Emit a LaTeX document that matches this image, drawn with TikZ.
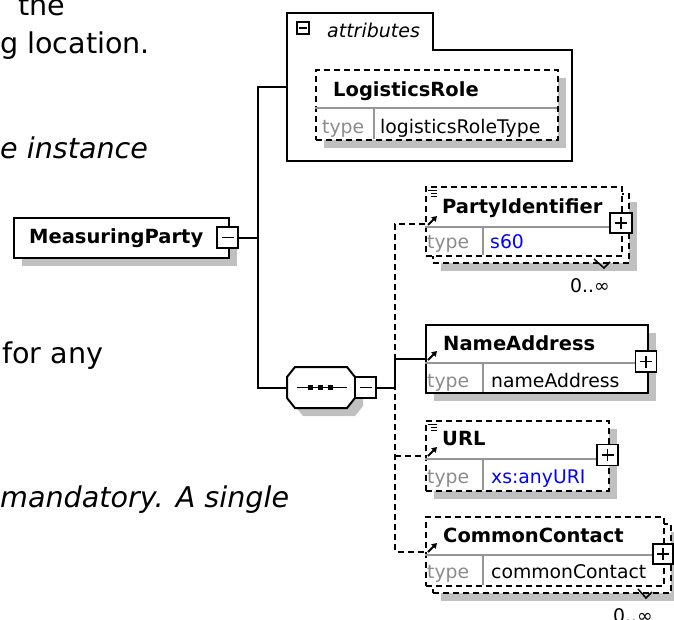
\documentclass[tikz,border=0pt]{standalone}
\usepackage{fontspec}
\setmainfont{DejaVu Sans}[ItalicFont={DejaVu Sans Oblique},BoldFont={DejaVu Sans Bold},BoldItalicFont={DejaVu Sans Bold Oblique}]
\usetikzlibrary{shadows,arrows.meta,calc}
\definecolor{shadowgray}{RGB}{192,192,192}
\definecolor{sepgray}{RGB}{150,150,150}
\definecolor{typegray}{RGB}{140,140,140}
\definecolor{valblue}{RGB}{0,0,255}
\begin{document}
\begin{tikzpicture}[x=1pt,y=-1pt,
  bigtxt/.style={font=\fontsize{28.6}{34}\selectfont, anchor=base west, inner sep=0pt},
  bigit/.style={bigtxt, font=\fontsize{28.6}{34}\selectfont\itshape},
  elname/.style={font=\fontsize{19.5}{23}\selectfont\bfseries, anchor=base west, inner sep=0pt},
  small/.style={font=\fontsize{18.8}{22}\selectfont, anchor=base west, inner sep=0pt},
  typelbl/.style={small, text=typegray},
  bluelbl/.style={small, text=valblue},
  shad/.style={drop shadow={shadow xshift=8pt, shadow yshift=-8pt, fill=shadowgray, opacity=1}},
  solidbox/.style={draw, line width=2pt, fill=white, inner sep=0pt, anchor=north west},
  dashbox/.style={solidbox, dash pattern=on 6pt off 4pt},
  conn/.style={line width=2pt},
  dconn/.style={line width=2pt, dash pattern=on 6pt off 4pt},
  sepline/.style={draw=sepgray, line width=1.5pt},
  pmbox/.style={draw, line width=1.5pt, fill=white, minimum width=21pt, minimum height=21pt, inner sep=0pt},
  pmline/.style={line width=1.5pt},
  refarrow/.style={line width=2pt, -{Triangle[length=5pt,width=6pt]}},
  iconline/.style={line width=1pt},
]
\useasboundingbox (0,0) rectangle (674,619);

% left text fragments
\node[bigtxt] (t1) at (18,15) {the};
\node[bigtxt] (t2) at (0,53) {g location.};
\node[bigit] (t3) at (0,158) {e instance};
\node[bigtxt] (t4) at (2,363) {for any};
\node[bigit] (t5) at (0,507) {mandatory. A single};

% attributes group
\node[inner sep=0pt, minimum width=285pt, minimum height=148pt, anchor=north west] (attr) at (287,13) {};
\draw[conn] (287,161) -- (287,13) -- (433,13) -- (433,50) -- (572,50) -- (572,161) -- cycle;
\node[pmbox, minimum width=12pt, minimum height=12pt, line width=1.2pt] (attrm) at (303,28) {};
\draw[line width=1.2pt] ([xshift=-4pt]attrm.center) -- ([xshift=4pt]attrm.center);
\node[small, font=\fontsize{19}{22}\selectfont\itshape] (attrt) at (327,37) {attributes};

\node[dashbox, shad, minimum width=242pt, minimum height=70pt] (lr) at (315,69) {};
\draw[sepline] (315,108) -- (557,108);
\draw[sepline] (374,108) -- (374,139);
\node[elname] (lrt) at (333,96.5) {LogisticsRole};
\node[typelbl] (lrty) at (322,133) {type};
\node[small] (lrv) at (380,133) {logisticsRoleType};

% MeasuringParty
\node[solidbox, shad, minimum width=215pt, minimum height=40pt] (mp) at (13,217) {};
\node[elname] (mpt) at (29,243.5) {MeasuringParty};
\node[pmbox] (mpm) at (227.5,237.5) {};
\draw[pmline] ([xshift=-6pt]mpm.center) -- ([xshift=6pt]mpm.center);

% sequence
\node[inner sep=0pt, minimum width=68pt, minimum height=41pt] (seq) at (321,387.5) {};
\begin{scope}[shift={(8,8)}]
\fill[shadowgray] (287,377) -- (295,367) -- (347,367) -- (355,377) -- (355,398) -- (347,408) -- (295,408) -- (287,398) -- cycle;
\end{scope}
\draw[line width=2pt, fill=white] (287,377) -- (295,367) -- (347,367) -- (355,377) -- (355,398) -- (347,408) -- (295,408) -- (287,398) -- cycle;
\draw[line width=1.5pt] (297,387.5) -- (347,387.5);
\fill (308,385) rectangle (313,390);
\fill (318,385) rectangle (323,390);
\fill (328,385) rectangle (333,390);
\node[pmbox] (seqm) at (365.5,387.5) {};
\draw[pmline] ([xshift=-6pt]seqm.center) -- ([xshift=6pt]seqm.center);

% PartyIdentifier (stacked)
\node[dashbox, shad, minimum width=196pt, minimum height=69pt] (piback) at (432,193) {};
\node[dashbox, minimum width=196pt, minimum height=69pt] (pi) at (425,186) {};
\draw[sepline] (425,227) -- (621,227);
\draw[sepline] (483,227) -- (483,255);
\node[pmbox, minimum width=22pt, minimum height=20pt] (pip) at (621,223) {};
\draw[pmline] ([xshift=-6pt]pip.center) -- ([xshift=6pt]pip.center);
\draw[pmline] ([yshift=-6pt]pip.center) -- ([yshift=6pt]pip.center);
\node[elname] (pit) at (442,213) {PartyIdentifier};
\node[typelbl] (pity) at (427,248) {type};
\node[bluelbl] (piv) at (490,248) {s60};
\node[small] (pim) at (570,292) {0..∞};
\draw[line width=1.5pt] (594,259) -- (604,268) -- (610,262);
\draw[iconline] (428,190) -- (437,190) (431,193) -- (437,193) (431,196) -- (437,196);
\draw[refarrow] (428,225) -- (437,216);

% NameAddress
\node[solidbox, shad, minimum width=222pt, minimum height=68pt] (na) at (425,324) {};
\draw[sepline] (425,363) -- (647,363);
\draw[sepline] (483,363) -- (483,392);
\node[pmbox] (nap) at (646,361.5) {};
\draw[pmline] ([xshift=-6pt]nap.center) -- ([xshift=6pt]nap.center);
\draw[pmline] ([yshift=-6pt]nap.center) -- ([yshift=6pt]nap.center);
\node[elname] (nat) at (443,350) {NameAddress};
\node[typelbl] (naty) at (427,387) {type};
\node[small] (nav) at (491,387) {nameAddress};
\draw[refarrow] (428,360) -- (437,351);

% URL
\node[dashbox, shad, minimum width=183pt, minimum height=70pt] (url) at (425,420) {};
\draw[sepline] (425,459) -- (608,459);
\draw[sepline] (483,459) -- (483,490);
\node[pmbox] (urlp) at (607.5,455) {};
\draw[pmline] ([xshift=-6pt]urlp.center) -- ([xshift=6pt]urlp.center);
\draw[pmline] ([yshift=-6pt]urlp.center) -- ([yshift=6pt]urlp.center);
\node[elname] (urlt) at (442,445) {URL};
\node[typelbl] (urlty) at (427,483) {type};
\node[bluelbl] (urlv) at (491,483) {xs:anyURI};
\draw[iconline] (428,424) -- (437,424) (431,427) -- (437,427) (431,430) -- (437,430);
\draw[refarrow] (428,456) -- (437,447);

% CommonContact (stacked)
\node[dashbox, shad, minimum width=238pt, minimum height=69pt] (ccback) at (432,523) {};
\node[dashbox, minimum width=238pt, minimum height=69pt] (cc) at (425,516) {};
\draw[sepline] (425,555) -- (663,555);
\draw[sepline] (483,555) -- (483,585);
\node[pmbox, minimum width=20pt, minimum height=20pt] (ccp) at (663,554) {};
\draw[pmline] ([xshift=-6pt]ccp.center) -- ([xshift=6pt]ccp.center);
\draw[pmline] ([yshift=-6pt]ccp.center) -- ([yshift=6pt]ccp.center);
\node[elname] (cct) at (443,542) {CommonContact};
\node[typelbl] (ccty) at (427,578) {type};
\node[small] (ccv) at (491,578) {commonContact};
\node[small] (ccm) at (613,622) {0..∞};
\draw[line width=1.5pt] (638,589) -- (646,598) -- (652,592);
\draw[refarrow] (428,552) -- (437,543);

% connectors
\coordinate (j1) at (258,237.5);
\coordinate (j2) at (395,387.5);
\draw[conn] (mpm.east) -- (j1);
\draw[conn] (j1) |- (attr.west);
\draw[conn] (j1) |- (seq.west);
\draw[conn] (seqm.east) -- (j2) |- (na.west);
\draw[dconn] ([yshift=-2.5pt]pi.west) -- ([yshift=-2.5pt]pi.west -| j2) -- (cc.west -| j2) -- (cc.west);
\draw[dconn] (j2 |- url.west) -- (url.west);
\end{tikzpicture}
\end{document}
